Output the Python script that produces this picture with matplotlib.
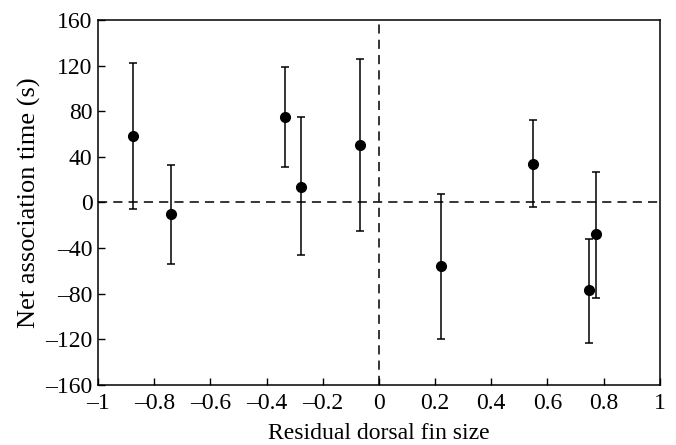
import matplotlib
matplotlib.use("Agg")
import matplotlib.pyplot as plt
import numpy as np

# data
fin_size = [-0.875, -0.74, -0.334, -0.277, -0.068, 0.22, 0.548, 0.747, 0.772]
assoc_time = [58, -10, 75, 14, 50, -56, 34, -77, -28]
err_upper = [122, 33, 119, 75, 126, 7, 72, -32, 27]
err_lower = [-6, -54, 31, -46, -25, -120, -4, -123, -84]

xticks = [-1, -0.8, -0.6, -0.4, -0.2, 0, 0.2, 0.4, 0.6, 0.8, 1]
xticklabels = ["\u20131", "\u20130.8", "\u20130.6", "\u20130.4", "\u20130.2", "0",
               "0.2", "0.4", "0.6", "0.8", "1"]
yticks = [-160, -120, -80, -40, 0, 40, 80, 120, 160]
yticklabels = ["\u2013160", "\u2013120", "\u201380", "\u201340", "0", "40", "80", "120", "160"]

plt.rcParams["font.family"] = ["Liberation Serif", "DejaVu Serif"]
plt.rcParams["font.size"] = 17

fig = plt.figure(figsize=(6.76, 4.45), dpi=100)
ax = fig.add_axes((0.145, 0.135, 0.831, 0.82))

y = np.array(assoc_time)
yerr = [y - np.array(err_lower), np.array(err_upper) - y]

ax.axhline(0, color="black", lw=1.1, ls=(0, (6, 4)), zorder=1)
ax.axvline(0, color="black", lw=1.1, ls=(0, (6, 4)), zorder=1)

ax.errorbar(fin_size, assoc_time, yerr=yerr, fmt="o", color="black",
            ms=7, elinewidth=1.1, capsize=3, capthick=1.1, zorder=3)

ax.set_xlim(-1, 1)
ax.set_ylim(-160, 160)
ax.set_xticks(xticks)
ax.set_xticklabels(xticklabels)
ax.set_yticks(yticks)
ax.set_yticklabels(yticklabels)
ax.tick_params(direction="in", length=5, width=1)
ax.tick_params(axis="x", pad=6)
ax.tick_params(axis="y", pad=4)

for s in ax.spines.values():
    s.set_linewidth(1.1)

ax.set_xlabel("Residual dorsal fin size", labelpad=6)
ax.set_ylabel("Net association time (s)", labelpad=3, fontsize=19)

fig.savefig("out.png", dpi=100)
